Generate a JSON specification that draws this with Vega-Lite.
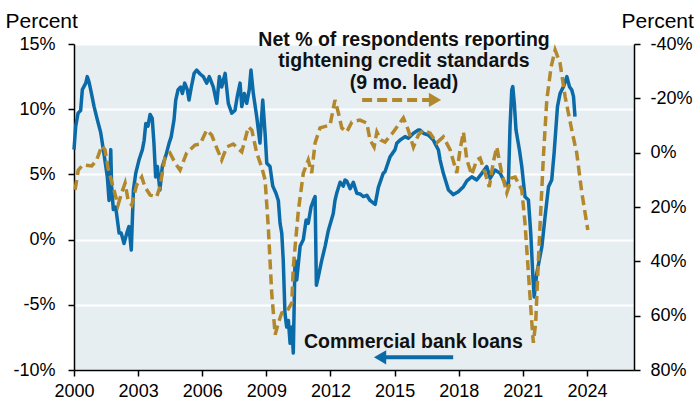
{
  "$schema": "https://vega.github.io/schema/vega-lite/v6.json",
  "width": 560,
  "height": 326,
  "autosize": {"type": "none"},
  "padding": {"left": 74, "top": 44, "right": 62, "bottom": 37},
  "background": "white",
  "config": {
    "view": {"fill": "#E6EEF2", "stroke": null},
    "font": "Liberation Sans",
    "axis": {
      "labelFont": "Liberation Sans", "labelFontSize": 18, "labelColor": "#000",
      "domainColor": "#000", "domainWidth": 1.5, "tickColor": "#000", "tickWidth": 1.5, "tickSize": 6,
      "titleFont": "Liberation Sans", "titleFontSize": 21, "titleFontWeight": "normal", "titleColor": "#000"
    }
  },
  "datasets": {
    "loans": [
      {"year": 2000.00, "value": 6.9}, {"year": 2000.08, "value": 8.7}, {"year": 2000.19, "value": 9.7}, {"year": 2000.31, "value": 9.9},
      {"year": 2000.39, "value": 11.5}, {"year": 2000.55, "value": 12.0}, {"year": 2000.62, "value": 12.5}, {"year": 2000.70, "value": 12.1},
      {"year": 2000.78, "value": 11.5}, {"year": 2000.94, "value": 10.2}, {"year": 2001.09, "value": 9.2}, {"year": 2001.25, "value": 8.2},
      {"year": 2001.40, "value": 6.6}, {"year": 2001.56, "value": 4.8}, {"year": 2001.64, "value": 3.0}, {"year": 2001.72, "value": 6.9},
      {"year": 2001.76, "value": 4.1}, {"year": 2001.84, "value": 2.3}, {"year": 2001.95, "value": 2.5}, {"year": 2002.03, "value": 1.5},
      {"year": 2002.11, "value": 0.5}, {"year": 2002.21, "value": 0.5}, {"year": 2002.34, "value": -0.3}, {"year": 2002.47, "value": 0.5},
      {"year": 2002.57, "value": 1.0}, {"year": 2002.68, "value": -0.8}, {"year": 2002.78, "value": 3.8}, {"year": 2002.89, "value": 5.1},
      {"year": 2003.04, "value": 6.1}, {"year": 2003.20, "value": 6.9}, {"year": 2003.28, "value": 7.6}, {"year": 2003.36, "value": 8.9},
      {"year": 2003.46, "value": 8.7}, {"year": 2003.56, "value": 9.6}, {"year": 2003.66, "value": 9.3}, {"year": 2003.74, "value": 7.4},
      {"year": 2003.82, "value": 4.8}, {"year": 2003.90, "value": 5.6}, {"year": 2004.02, "value": 3.8}, {"year": 2004.13, "value": 5.6},
      {"year": 2004.29, "value": 6.4}, {"year": 2004.45, "value": 7.4}, {"year": 2004.55, "value": 7.9}, {"year": 2004.68, "value": 9.2},
      {"year": 2004.76, "value": 10.7}, {"year": 2004.87, "value": 11.5}, {"year": 2004.99, "value": 11.7}, {"year": 2005.07, "value": 11.2},
      {"year": 2005.18, "value": 12.0}, {"year": 2005.30, "value": 11.5}, {"year": 2005.38, "value": 10.7}, {"year": 2005.49, "value": 11.7},
      {"year": 2005.62, "value": 12.75}, {"year": 2005.74, "value": 13.0}, {"year": 2005.90, "value": 12.7}, {"year": 2006.05, "value": 12.5},
      {"year": 2006.21, "value": 12.0}, {"year": 2006.33, "value": 12.5}, {"year": 2006.52, "value": 11.7}, {"year": 2006.68, "value": 10.45},
      {"year": 2006.80, "value": 12.5}, {"year": 2006.91, "value": 11.7}, {"year": 2007.07, "value": 12.75}, {"year": 2007.22, "value": 10.45},
      {"year": 2007.38, "value": 9.7}, {"year": 2007.53, "value": 9.9}, {"year": 2007.64, "value": 11.0}, {"year": 2007.77, "value": 12.0},
      {"year": 2007.85, "value": 10.2}, {"year": 2007.97, "value": 11.2}, {"year": 2008.08, "value": 10.45}, {"year": 2008.20, "value": 11.5},
      {"year": 2008.28, "value": 13.0}, {"year": 2008.39, "value": 11.2}, {"year": 2008.55, "value": 9.4}, {"year": 2008.70, "value": 7.4},
      {"year": 2008.83, "value": 10.7}, {"year": 2008.94, "value": 8.15}, {"year": 2009.02, "value": 5.85}, {"year": 2009.17, "value": 5.6},
      {"year": 2009.30, "value": 4.1}, {"year": 2009.45, "value": 3.55}, {"year": 2009.56, "value": 3.0}, {"year": 2009.64, "value": 1.25},
      {"year": 2009.72, "value": 0.5}, {"year": 2009.79, "value": -1.6}, {"year": 2009.87, "value": -5.65}, {"year": 2009.95, "value": -6.7},
      {"year": 2010.03, "value": -6.2}, {"year": 2010.11, "value": -7.95}, {"year": 2010.19, "value": -6.7}, {"year": 2010.26, "value": -8.7},
      {"year": 2010.34, "value": -1.6}, {"year": 2010.42, "value": -3.1}, {"year": 2010.58, "value": -0.5}, {"year": 2010.73, "value": 0.0},
      {"year": 2010.86, "value": 1.5}, {"year": 2010.96, "value": 1.25}, {"year": 2011.09, "value": 2.5}, {"year": 2011.20, "value": 3.0},
      {"year": 2011.28, "value": 3.3}, {"year": 2011.34, "value": -3.5}, {"year": 2011.43, "value": -2.85}, {"year": 2011.59, "value": -1.6},
      {"year": 2011.75, "value": -0.5}, {"year": 2011.90, "value": 0.7}, {"year": 2012.13, "value": 2.0}, {"year": 2012.21, "value": 3.0},
      {"year": 2012.29, "value": 3.55}, {"year": 2012.45, "value": 4.4}, {"year": 2012.60, "value": 4.1}, {"year": 2012.68, "value": 4.57},
      {"year": 2012.76, "value": 4.5}, {"year": 2012.92, "value": 3.9}, {"year": 2013.07, "value": 4.4}, {"year": 2013.23, "value": 3.55},
      {"year": 2013.38, "value": 3.5}, {"year": 2013.54, "value": 3.3}, {"year": 2013.70, "value": 3.4}, {"year": 2013.85, "value": 3.0},
      {"year": 2014.09, "value": 2.7}, {"year": 2014.24, "value": 4.0}, {"year": 2014.47, "value": 5.1}, {"year": 2014.55, "value": 5.2},
      {"year": 2014.79, "value": 6.36}, {"year": 2015.02, "value": 6.9}, {"year": 2015.10, "value": 7.38}, {"year": 2015.26, "value": 7.64},
      {"year": 2015.49, "value": 7.9}, {"year": 2015.64, "value": 7.77}, {"year": 2015.88, "value": 8.15}, {"year": 2016.11, "value": 8.4},
      {"year": 2016.19, "value": 8.4}, {"year": 2016.35, "value": 8.15}, {"year": 2016.58, "value": 8.02}, {"year": 2016.81, "value": 7.64},
      {"year": 2016.89, "value": 7.38}, {"year": 2017.05, "value": 6.87}, {"year": 2017.13, "value": 6.1}, {"year": 2017.28, "value": 5.08},
      {"year": 2017.52, "value": 3.8}, {"year": 2017.75, "value": 3.45}, {"year": 2017.98, "value": 3.67}, {"year": 2018.06, "value": 3.8},
      {"year": 2018.22, "value": 4.06}, {"year": 2018.38, "value": 4.5}, {"year": 2018.61, "value": 4.82}, {"year": 2018.84, "value": 4.57},
      {"year": 2019.08, "value": 5.08}, {"year": 2019.31, "value": 5.6}, {"year": 2019.47, "value": 4.7}, {"year": 2019.70, "value": 5.33},
      {"year": 2019.94, "value": 5.08}, {"year": 2020.17, "value": 4.3}, {"year": 2020.32, "value": 4.06}, {"year": 2020.40, "value": 8.66},
      {"year": 2020.48, "value": 11.47}, {"year": 2020.53, "value": 11.73}, {"year": 2020.60, "value": 10.45}, {"year": 2020.68, "value": 8.4},
      {"year": 2020.84, "value": 6.87}, {"year": 2020.95, "value": 5.6}, {"year": 2021.10, "value": 3.29}, {"year": 2021.26, "value": 3.04},
      {"year": 2021.37, "value": 0.48}, {"year": 2021.47, "value": -2.85}, {"year": 2021.53, "value": -4.4}, {"year": 2021.65, "value": -2.6},
      {"year": 2021.89, "value": -0.54}, {"year": 2022.04, "value": 1.76}, {"year": 2022.20, "value": 4.06}, {"year": 2022.35, "value": 4.57},
      {"year": 2022.46, "value": 6.6}, {"year": 2022.62, "value": 10.2}, {"year": 2022.74, "value": 11.2}, {"year": 2022.90, "value": 11.73},
      {"year": 2023.06, "value": 12.5}, {"year": 2023.18, "value": 11.73}, {"year": 2023.29, "value": 11.47}, {"year": 2023.37, "value": 10.96},
      {"year": 2023.44, "value": 9.43}
    ],
    "sloos": [
      {"year": 2000.05, "pct": 13.7}, {"year": 2000.20, "pct": 6.4}, {"year": 2000.42, "pct": 4.5}, {"year": 2000.83, "pct": 4.9},
      {"year": 2001.06, "pct": 2.7}, {"year": 2001.30, "pct": -2.5}, {"year": 2001.45, "pct": -1.1}, {"year": 2001.59, "pct": 5.6},
      {"year": 2001.83, "pct": 12.6}, {"year": 2002.06, "pct": 19.3}, {"year": 2002.23, "pct": 14.8}, {"year": 2002.39, "pct": 11.2},
      {"year": 2002.53, "pct": 17.4}, {"year": 2002.70, "pct": 19.3}, {"year": 2002.93, "pct": 11.9}, {"year": 2003.17, "pct": 9.0},
      {"year": 2003.32, "pct": 12.6}, {"year": 2003.56, "pct": 15.6}, {"year": 2003.87, "pct": 16.3}, {"year": 2004.02, "pct": 12.6},
      {"year": 2004.26, "pct": 1.6}, {"year": 2004.49, "pct": 0.1}, {"year": 2004.73, "pct": 3.8}, {"year": 2004.96, "pct": 6.4},
      {"year": 2005.27, "pct": 0.1}, {"year": 2005.66, "pct": -2.8}, {"year": 2005.90, "pct": -3.2}, {"year": 2006.21, "pct": -8.3},
      {"year": 2006.44, "pct": -6.5}, {"year": 2006.68, "pct": -1.7}, {"year": 2006.91, "pct": 2.7}, {"year": 2007.15, "pct": -2.1},
      {"year": 2007.45, "pct": -3.2}, {"year": 2007.85, "pct": -0.3}, {"year": 2008.16, "pct": -9.5}, {"year": 2008.32, "pct": -8.3},
      {"year": 2008.55, "pct": 0.1}, {"year": 2008.78, "pct": 5.3}, {"year": 2008.94, "pct": 10.0}, {"year": 2009.09, "pct": 27.4},
      {"year": 2009.25, "pct": 51.6}, {"year": 2009.41, "pct": 67.0}, {"year": 2009.56, "pct": 62.7}, {"year": 2009.72, "pct": 59.0},
      {"year": 2009.95, "pct": 58.6}, {"year": 2010.19, "pct": 55.3}, {"year": 2010.26, "pct": 42.0}, {"year": 2010.50, "pct": 21.1},
      {"year": 2010.73, "pct": 7.5}, {"year": 2010.96, "pct": 2.7}, {"year": 2011.12, "pct": 7.5}, {"year": 2011.28, "pct": -3.6},
      {"year": 2011.51, "pct": -9.1}, {"year": 2011.98, "pct": -10.2}, {"year": 2012.21, "pct": -19.4}, {"year": 2012.37, "pct": -14.6},
      {"year": 2012.53, "pct": -9.1}, {"year": 2012.76, "pct": -7.6}, {"year": 2013.00, "pct": -11.3}, {"year": 2013.38, "pct": -12.0},
      {"year": 2013.70, "pct": -10.9}, {"year": 2013.85, "pct": -4.7}, {"year": 2014.04, "pct": -2.1}, {"year": 2014.17, "pct": -7.6},
      {"year": 2014.35, "pct": -4.7}, {"year": 2014.55, "pct": -3.9}, {"year": 2014.94, "pct": -7.6}, {"year": 2015.41, "pct": -12.8},
      {"year": 2015.64, "pct": -8.3}, {"year": 2015.88, "pct": -2.1}, {"year": 2016.11, "pct": -6.5}, {"year": 2016.35, "pct": -8.3},
      {"year": 2016.66, "pct": -7.2}, {"year": 2016.97, "pct": -3.6}, {"year": 2017.28, "pct": -5.8}, {"year": 2017.60, "pct": -1.0},
      {"year": 2017.91, "pct": 7.5}, {"year": 2018.06, "pct": -1.0}, {"year": 2018.22, "pct": -7.6}, {"year": 2018.38, "pct": 2.7},
      {"year": 2018.61, "pct": 8.2}, {"year": 2018.84, "pct": 2.7}, {"year": 2019.00, "pct": 2.0}, {"year": 2019.23, "pct": 7.5},
      {"year": 2019.43, "pct": 12.6}, {"year": 2019.62, "pct": 3.4}, {"year": 2019.78, "pct": -2.1}, {"year": 2020.01, "pct": 7.5},
      {"year": 2020.25, "pct": 14.8}, {"year": 2020.48, "pct": 9.3}, {"year": 2020.64, "pct": 9.0}, {"year": 2020.95, "pct": 13.7},
      {"year": 2021.10, "pct": 25.9}, {"year": 2021.26, "pct": 44.3}, {"year": 2021.42, "pct": 62.7}, {"year": 2021.49, "pct": 70.0},
      {"year": 2021.60, "pct": 62.7}, {"year": 2021.70, "pct": 44.3}, {"year": 2021.81, "pct": 25.9}, {"year": 2021.96, "pct": 1.6},
      {"year": 2022.12, "pct": -19.4}, {"year": 2022.32, "pct": -31.5}, {"year": 2022.51, "pct": -37.8}, {"year": 2022.74, "pct": -33.0},
      {"year": 2022.98, "pct": -20.5}, {"year": 2023.29, "pct": -8.3}, {"year": 2023.52, "pct": 0.1}, {"year": 2023.76, "pct": 14.8},
      {"year": 2024.04, "pct": 28.5}
    ],
    "gold_arrow": [{"year": 2013.48, "value": 10.71}, {"year": 2016.66, "value": 10.71}],
    "gold_head": [{"year": 2016.89, "value": 10.71}],
    "blue_arrow": [{"year": 2017.74, "value": -9.03}, {"year": 2014.55, "value": -9.03}],
    "blue_head": [{"year": 2014.32, "value": -9.03}],
    "labels": [
      {"year": 2015.44, "value": 14.85, "label": "Net % of respondents reporting\ntightening credit standards\n(9 mo. lead)"},
      {"year": 2015.88, "value": -8.34, "label": "Commercial bank loans"}
    ]
  },
  "encoding": {
    "x": {"field": "year", "type": "quantitative",
      "scale": {"domain": [2000, 2026.2], "nice": false, "zero": false},
      "axis": {"title": null, "values": [2000, 2003, 2006, 2009, 2012, 2015, 2018, 2021, 2024], "format": "d", "grid": false, "labelPadding": 6, "labelFlush": false}}
  },
  "layer": [
    {
      "encoding": {
        "y": {"field": "value", "type": "quantitative",
          "scale": {"domain": [-10, 15], "nice": false, "zero": false},
          "axis": {"orient": "left", "title": "Percent", "titleAngle": 0, "titleAlign": "left", "titleBaseline": "alphabetic", "titleX": -69, "titleY": -17,
            "values": [-10, -5, 0, 5, 10, 15], "labelExpr": "datum.value + '%'", "grid": true, "gridColor": "#FFFFFF", "gridWidth": 2, "labelPadding": 13}}
      },
      "layer": [
        {
          "data": {"name": "loans"},
          "mark": {"type": "line", "color": "#0B6AA8", "strokeWidth": 3.5, "strokeJoin": "round"}
        },
        {
          "data": {"name": "gold_arrow"},
          "mark": {"type": "line", "color": "#B3872C", "strokeWidth": 4, "strokeDash": [10, 5]}
        },
        {
          "data": {"name": "gold_head"},
          "mark": {"type": "point", "shape": "triangle-right", "filled": true, "color": "#B3872C", "size": 200, "opacity": 1}
        },
        {
          "data": {"name": "blue_arrow"},
          "mark": {"type": "line", "color": "#0B6AA8", "strokeWidth": 4}
        },
        {
          "data": {"name": "blue_head"},
          "mark": {"type": "point", "shape": "triangle-left", "filled": true, "color": "#0B6AA8", "size": 200, "opacity": 1}
        },
        {
          "data": {"name": "labels"},
          "mark": {"type": "text", "align": "center", "baseline": "alphabetic", "fontWeight": "bold", "fontSize": 19.5, "lineHeight": 21.5, "lineBreak": "\n", "color": "#111111", "font": "Liberation Sans"},
          "encoding": {"text": {"field": "label"}}
        }
      ]
    },
    {
      "data": {"name": "sloos"},
      "mark": {"type": "line", "color": "#B3872C", "strokeWidth": 3.5, "strokeDash": [10, 5]},
      "encoding": {
        "y": {"field": "pct", "type": "quantitative",
          "scale": {"domain": [-40, 80], "reverse": true, "nice": false, "zero": false},
          "axis": {"orient": "right", "title": "Percent", "titleAngle": 0, "titleAlign": "left", "titleBaseline": "alphabetic", "titleX": -13, "titleY": -17,
            "values": [-40, -20, 0, 20, 40, 60, 80], "labelExpr": "datum.value + '%'", "grid": false, "labelPadding": 10}}
      }
    }
  ],
  "resolve": {"scale": {"y": "independent"}}
}
